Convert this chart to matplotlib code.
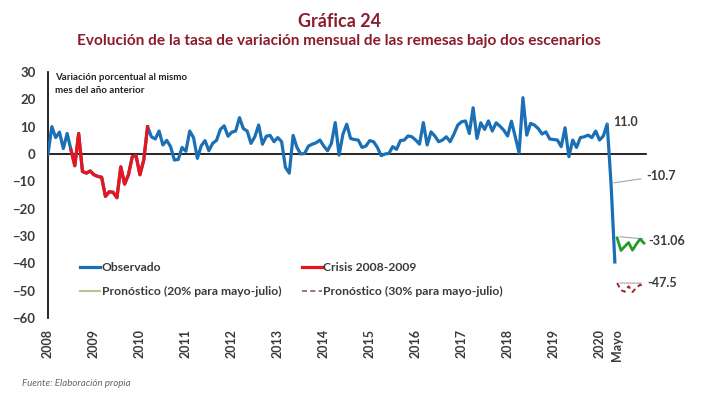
import matplotlib.pyplot as plt
from matplotlib.lines import Line2D
import numpy as np

plt.rcParams['font.family'] = ['Lato', 'DejaVu Sans']

# Serie observada: variacion anual (%) de remesas, ene-2008 a may-2020
observado = [
    0, 10, 6, 8, 2, 7.5, 1.5, -4.3,
    7.5, -6.4, -7, -6.2, -7.6, -8.2, -8.5, -15.5, -13.8, -14, -16, -4.7,
    -11, -7.6, -1, -0.7, -7.6, -2.2, 10,
    6.3, 5.5, 8.4, 3.3, 5, 2.7, -2.2, -2, 2.4, 1, 8.4, 6, -1.6, 3, 4.9,
    1.2, 3.9, 5, 9, 10.3, 6.5, 8, 8.4, 13.3, 9.3, 8.4, 3.9, 6.3, 10.6,
    3.6, 6.5, 6.8, 4.5, 6, 4.5, -4.9, -7, 6.8, 2.4, 0, 0.2, 2.9, 3.6,
    4.1, 5.1, 2.9, 1.2, 3.9, 11.5, -0.4, 7.2, 10.9,
    5.7, 5.3, 5.1, 2.4, 2.9, 4.9, 4.5, 2.4, -0.6, 0,
    0.2, 2.7, 1.7, 4.9, 5.1, 6.6, 6.3, 5.1, 3.6, 11.5,
    3.3, 8.1, 6.6, 4.5, 5.1, 6.3, 4.5, 7.3, 10.6, 11.8,
    12.1, 7.5, 16.9, 5.7, 11.4, 9, 12.1, 8.4, 11.4, 10.2,
    8.7, 6.6, 12, 6.3, 0.5, 20.6, 6.9, 11.2, 10.6, 9.3,
    7.3, 8.1, 5.5, 5.3, 5.1, 2.7, 9.6, -1, 5.1, 2.4,
    6, 6.3, 6.9, 6, 8.4, 5.1, 6.6, 11.0,
    -10.7, -39.5,
]
crisis_ini, crisis_fin = 6, 26   # jul-2008 a mar-2010

pron_20 = [-30.7, -35.3, -33.8, -32.4, -35.2, -33.0, -31.1, -32.6]
pron_30 = [-47.2, -49.8, -50.4, -48.4, -50.5, -49.0, -47.8, -48.6]
anios = ['2008', '2009', '2010', '2011', '2012', '2013', '2014',
         '2015', '2016', '2017', '2018', '2019', '2020']

azul = '#1a6fb5'
rojo = '#e8161b'
verde = '#239b27'
vino = '#9b2a30'
gris_txt = '#3a3a3a'

x = np.arange(len(observado))
x_pron = np.arange(len(observado) - 1, len(observado) - 1 + len(pron_20)) + 0.6

fig = plt.figure(figsize=(7.04, 3.94), dpi=100)
ax = fig.add_axes([48/704, 1 - 318/394, 616/704, 246/394])

ax.axhline(0, xmin=0, xmax=(646 - 48) / 616, color='black', lw=1.2, zorder=1)
ax.plot(x, observado, color=azul, lw=2.3, zorder=3)
ax.plot(x[crisis_ini:crisis_fin + 1], observado[crisis_ini:crisis_fin + 1],
        color=rojo, lw=2.3, zorder=4)
ax.plot(x_pron, pron_20, color=verde, lw=2.0, zorder=4)
ax.plot(x_pron, pron_30, color=vino, lw=1.4, ls=(0, (2.5, 1.8)), zorder=4)

ax.set_xlim(0, 616 / 3.83)
ax.set_ylim(-60, 30)
ax.set_yticks(np.arange(-60, 31, 10))
ax.set_xticks(list(np.arange(0, 12 * len(anios), 12)) + [148.5])
ax.set_xticklabels(anios + ['Mayo'], rotation=90, fontweight='bold',
                   fontsize=9, color=gris_txt)
for t in ax.get_yticklabels():
    t.set_fontweight('bold')
    t.set_fontsize(9.5)
    t.set_color(gris_txt)
ax.tick_params(axis='both', length=0)
ax.tick_params(axis='y', pad=9)
ax.tick_params(axis='x', pad=8)
for s in ['top', 'right', 'bottom']:
    ax.spines[s].set_visible(False)
ax.spines['left'].set_linewidth(1.2)

ax.text(0.012, 0.995, 'Variación porcentual al mismo\nmes del año anterior',
        transform=ax.transAxes, fontsize=7, fontweight='bold', va='top',
        color='#222222', linespacing=1.5)

# Etiquetas de los ultimos datos y pronosticos
gris_lin = '#a6a6a6'
ax.annotate('11.0', xy=(x[146], observado[146]), xytext=(x[146] + 1.6, 11.6),
            fontsize=9, fontweight='bold', color=gris_txt, va='center',
            arrowprops=dict(arrowstyle='-', color=gris_lin, lw=0.8))
ax.annotate('-10.7', xy=(x[147], observado[147]), xytext=(x[147] + 9.3, -8),
            fontsize=9, fontweight='bold', color=gris_txt, va='center',
            arrowprops=dict(arrowstyle='-', color=gris_lin, lw=0.8))
ax.annotate('-31.06', xy=(x_pron[0], pron_20[0] + 0.5),
            xytext=(x_pron[-1] + 1.2, -31.8),
            fontsize=9, fontweight='bold', color=gris_txt, va='center',
            arrowprops=dict(arrowstyle='-', color=gris_lin, lw=0.8))
ax.annotate('-47.5', xy=(x_pron[0], pron_30[0]),
            xytext=(x_pron[-1] + 0.8, -47.3),
            fontsize=9, fontweight='bold', color=gris_txt, va='center',
            arrowprops=dict(arrowstyle='-', color=gris_lin, lw=0.8))

handles = [
    Line2D([], [], color=azul, lw=2.3),
    Line2D([], [], color='#b8c48c', lw=1.5),
    Line2D([], [], color=rojo, lw=2.3),
    Line2D([], [], color='#8b5a66', lw=1.2, ls=(0, (3, 2))),
]
labels = ['Observado', 'Pronóstico (20% para mayo-julio)',
          'Crisis 2008-2009', 'Pronóstico (30% para mayo-julio)']
leg = ax.legend(handles, labels, ncol=2, loc='upper left',
                bbox_to_anchor=(0.035, 0.27), frameon=False,
                handlelength=1.65, handletextpad=0.1, columnspacing=1.75,
                labelspacing=1.05,
                prop={'weight': 'bold', 'size': 8.7})
for t in leg.get_texts():
    t.set_color(gris_txt)

titulo = '#8c1c2c'
fig.text(0.482, 0.968, 'Gráfica 24', ha='center', va='top', fontsize=13,
         fontweight='bold', color=titulo)
fig.text(0.482, 0.913,
         'Evolución de la tasa de variación mensual de las remesas bajo dos escenarios',
         ha='center', va='top', fontsize=11.1, fontweight='bold', color=titulo)
fig.text(0.031, 0.027, 'Fuente: Elaboración propia', ha='left', va='center',
         fontsize=7, style='italic', color='#666666')

fig.savefig('out.png', dpi=100)
